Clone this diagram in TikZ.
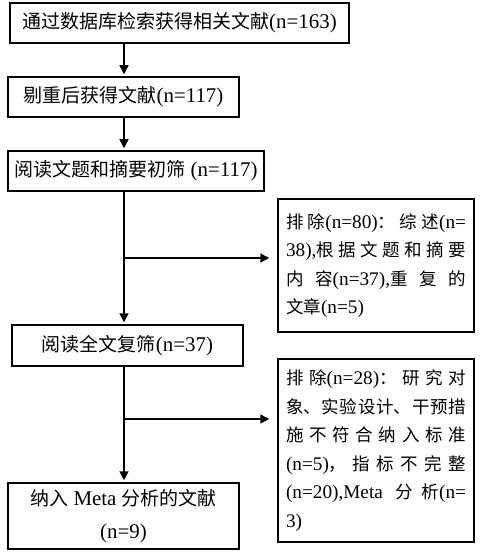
\documentclass[tikz,border=0pt]{standalone}
\usepackage{fontspec}
\setmainfont{Liberation Serif}[Scale=1.1]
\newfontfamily\zhfont{Noto Sans CJK SC}
\newcommand\zh[1]{{\zhfont #1}}
\XeTeXlinebreaklocale "zh"
\XeTeXlinebreakskip=0pt plus 3pt
\usetikzlibrary{arrows.meta, positioning, calc}
\tikzset{
  stage/.style={rectangle, draw=black, line width=1.5pt, minimum height=40pt,
    inner sep=0pt, text centered, font=\fontsize{19}{24}\selectfont},
  excl/.style={rectangle, draw=black, line width=1.5pt, text width=180pt,
    inner xsep=8pt, align=justify, font=\fontsize{17.5}{28.5}\selectfont},
  arr/.style={-{Triangle[length=9pt,width=9pt]}, line width=1.5pt, draw=black, shorten >=2pt},
  harr/.style={arr, shorten >=8pt},
}

\begin{document}
\begin{tikzpicture}[x=1pt, y=-1pt]
  \path[use as bounding box] (0,0) rectangle (493,556);

  \node[stage, minimum width=339pt] (search) at (179.5,23) {\zh{通过数据库检索获得相关文献}(n=163)};
  \node[stage, minimum width=231pt] (dedup) at (123.5,97) {\zh{剔重后获得文献}(n=117)};
  \node[stage, minimum width=256pt] (screen) at (136,171) {\zh{阅读文题和摘要初筛} (n=117)};
  \node[stage, minimum width=231pt, minimum height=41pt] (full) at (127.5,345.5) {\zh{阅读全文复筛}(n=37)};
  \node[stage, minimum width=231pt, minimum height=66pt, align=center] (incl) at (123.5,516)
    {\zh{纳入} Meta \zh{分析的文献}\\[9pt](n=9)};

  % Side: excluded
  \node[excl, minimum height=133pt] (exclA) at (376,265.5)
    {\zh{排除}(n=80)\zh{：综述}(n=\linebreak
     38),\zh{根据文题和摘要}\linebreak
     \zh{内容}(n=37),\zh{重复的}\linebreak
     \zh{文章}(n=5)};
  \node[excl, minimum height=183pt] (exclB) at (376,450.5)
    {\zh{排除}(n=28)\zh{：研究对}\linebreak
     \zh{象、实验设计、干预措}\linebreak
     \zh{施不符合纳入标准}\linebreak
     (n=5)\zh{，指标不完整}\linebreak
     (n=20),Meta \zh{分析}(n=\linebreak
     3)};

  \coordinate (spine) at (124,0);
  \coordinate (forkA) at (124,258);
  \coordinate (forkB) at (124,419);

  \draw[arr] (search.south -| spine) -- (dedup.north -| spine);
  \draw[arr] (dedup.south -| spine) -- (screen.north -| spine);
  \draw[arr] (screen.south -| spine) -- (full.north -| spine);
  \draw[arr] (full.south -| spine) -- (incl.north -| spine);
  \draw[harr] (forkA) -- (forkA -| exclA.west);
  \draw[harr] (forkB) -- (forkB -| exclB.west);
\end{tikzpicture}
\end{document}
